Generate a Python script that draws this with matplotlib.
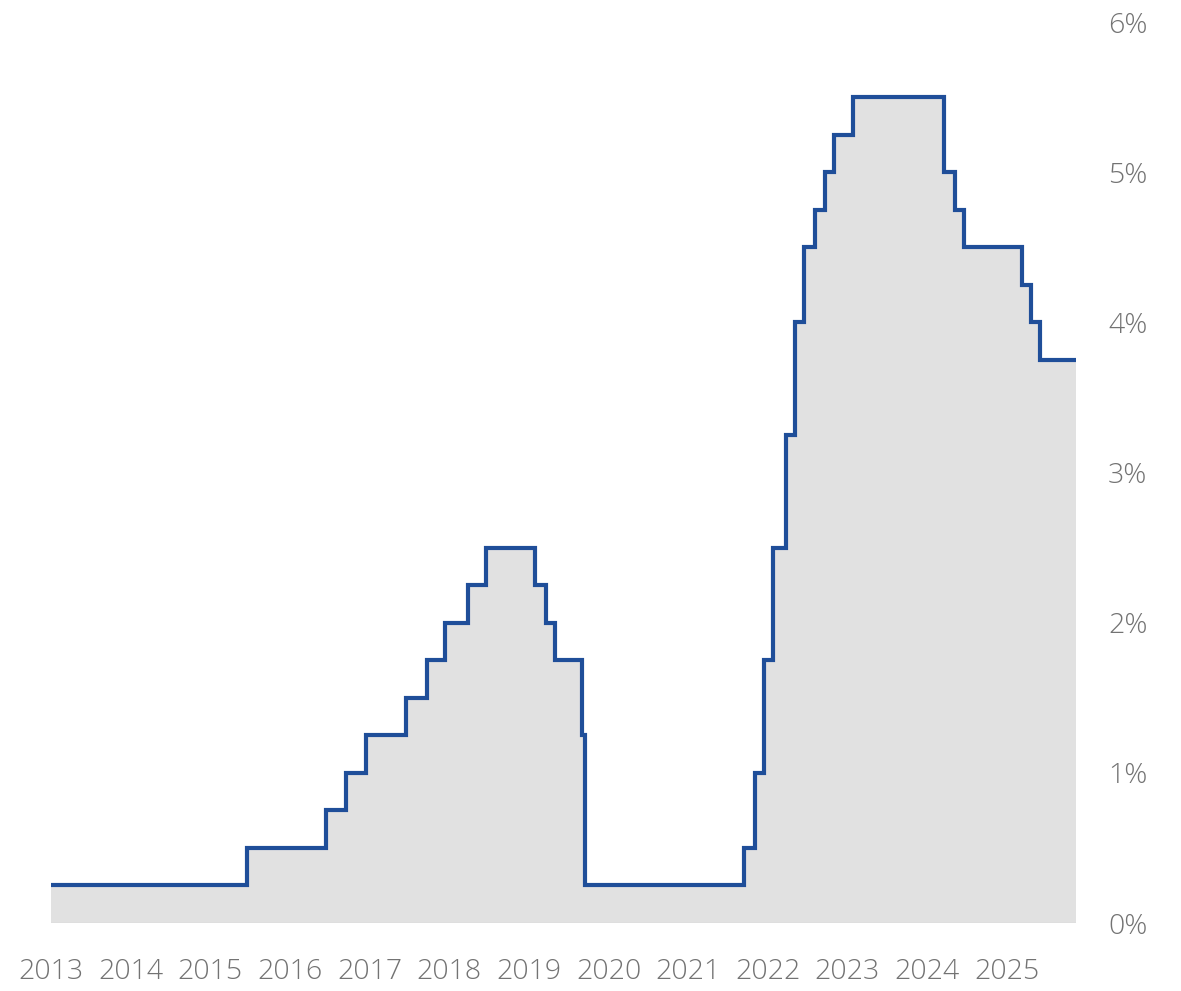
import pandas as pd
import matplotlib
matplotlib.use("Agg")
import matplotlib.pyplot as plt

# --- DATA: policy rate (upper bound, %) and the dates it changed ---
change_dates = [
    "2013-07-01", "2015-12-16", "2016-12-14", "2017-03-15", "2017-06-14",
    "2017-12-13", "2018-03-21", "2018-06-13", "2018-09-26", "2018-12-19",
    "2019-07-31", "2019-09-18", "2019-10-30", "2020-03-03", "2020-03-15",
    "2022-03-16", "2022-05-04", "2022-06-15", "2022-07-27", "2022-09-21",
    "2022-11-02", "2022-12-14", "2023-02-01", "2023-03-22", "2023-05-03",
    "2023-07-26", "2024-09-18", "2024-11-07", "2024-12-18", "2025-09-10",
    "2025-10-22", "2025-12-03", "2026-05-15",
]
rates = [
    0.25, 0.50, 0.75, 1.00, 1.25,
    1.50, 1.75, 2.00, 2.25, 2.50,
    2.25, 2.00, 1.75, 1.25, 0.25,
    0.50, 1.00, 1.75, 2.50, 3.25,
    4.00, 4.50, 4.75, 5.00, 5.25,
    5.50, 5.00, 4.75, 4.50, 4.25,
    4.00, 3.75, 3.75,
]
years = list(range(2013, 2026))
y_ticks = [0, 1, 2, 3, 4, 5, 6]
y_labels = ["0%", "1%", "2%", "3%", "4%", "5%", "6%"]

dates = pd.to_datetime(change_dates)

# --- FIGURE ---
fig = plt.figure(figsize=(11.81, 9.91), dpi=100)
ax = fig.add_axes([0.0432, 0.0686, 0.8679, 0.9092])

line_color = "#1f4e99"
fill_color = "#e1e1e1"
text_color = "#737373"

ax.fill_between(dates, rates, 0, step="post", color=fill_color, linewidth=0, zorder=1)
ax.plot(dates, rates, drawstyle="steps-post", color=line_color, linewidth=3.0,
        solid_joinstyle="miter", solid_capstyle="butt", zorder=3, clip_on=False)
ax.axhline(0, color="#d2d2d2", linewidth=1, zorder=2)

ax.set_xlim(dates[0], dates[-1])
ax.set_ylim(0, 6)

# year labels sit in the middle of each year
ax.set_xticks(pd.to_datetime([f"{y}-07-01" for y in years]))
ax.set_xticklabels([str(y) for y in years])
ax.set_yticks(y_ticks)
ax.set_yticklabels(y_labels)
ax.yaxis.tick_right()

for s in ax.spines.values():
    s.set_visible(False)

ax.tick_params(axis="x", length=0, pad=25, labelsize=20.5, labelcolor=text_color)
ax.tick_params(axis="y", length=0, pad=23, labelsize=20.5, labelcolor=text_color)
for lbl in ax.get_xticklabels() + ax.get_yticklabels():
    lbl.set_fontfamily("Open Sans")
    lbl.set_fontweight("light")

fig.savefig("out.png", dpi=100, facecolor="white")
